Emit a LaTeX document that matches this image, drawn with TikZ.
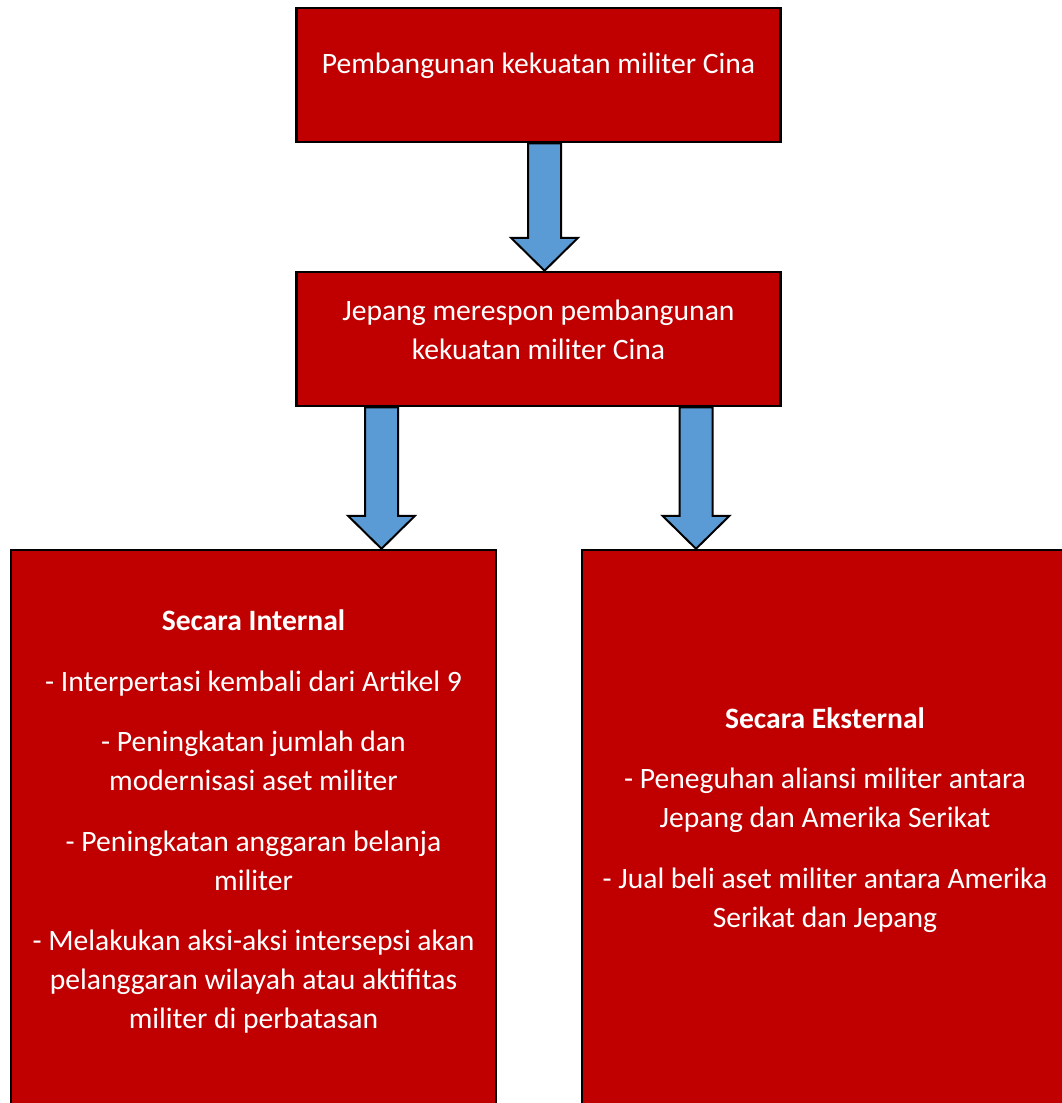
\documentclass[tikz,border=0pt]{standalone}
\usepackage{fontspec}
\setmainfont{Carlito}
\usepackage{tikz}
\usetikzlibrary{calc}

\definecolor{merah}{RGB}{192,0,0}
\definecolor{biru}{RGB}{91,155,213}

\tikzset{
  kotak/.style={rectangle,draw=black,fill=merah,line width=2.5pt,minimum width=#1,inner sep=0pt},
  teks/.style={text=white,align=center,font=\fontsize{29.6}{39}\selectfont},
  panahblok/.style={draw=black,fill=biru,line width=2pt,line join=miter}
}

% block arrow: x-coordinate, from node, to node
\newcommand{\panahturun}[3]{%
  \draw[panahblok] ($(#1 |- #2.south)+(-16.5,0)$) -- ($(#1 |- #3.north)+(-16.5,-33)$)
    -- ($(#1 |- #3.north)+(-33.5,-33)$) -- (#1 |- #3.north)
    -- ($(#1 |- #3.north)+(33.5,-33)$) -- ($(#1 |- #3.north)+(16.5,-33)$)
    -- ($(#1 |- #2.south)+(16.5,0)$) -- cycle;}

\begin{document}
\begin{tikzpicture}[x=1pt,y=-1pt]
      \clip (0,0) rectangle (1062,1103);

      \node[kotak=484pt,minimum height=134pt] (pembangunan) at (538.5,75) {};
      \node[kotak=484pt,minimum height=134pt] (respon) at (538.5,339) {};
      \node[kotak=485pt,minimum height=580pt] (internal) at (253.5,840) {};
      \node[kotak=498pt,minimum height=580pt] (eksternal) at (831,840) {};

      \node[teks] (t1) at (538.5,66) {Pembangunan kekuatan militer Cina};
      \node[teks] (t2) at (538.5,330) {Jepang merespon pembangunan\\kekuatan militer Cina};
      \node[teks] (t3) at (253.5,821) {\bfseries Secara Internal\\[22pt]
        - Interpertasi kembali dari Artikel 9\\[21pt]
        - Peningkatan jumlah dan\\modernisasi aset militer\\[22pt]
        - Peningkatan anggaran belanja\\militer\\[21pt]
        - Melakukan aksi-aksi intersepsi akan\\pelanggaran wilayah atau aktifitas\\militer di perbatasan};
      \node[teks] (t4) at (825,820) {\bfseries Secara Eksternal\\[21pt]
        - Peneguhan aliansi militer antara\\Jepang dan Amerika Serikat\\[22pt]
        - Jual beli aset militer antara Amerika\\Serikat dan Jepang};

      \coordinate (p1) at (544.5,0);
      \coordinate (p2) at (381.5,0);
      \coordinate (p3) at (696,0);
      \panahturun{p1}{pembangunan}{respon}
      \panahturun{p2}{respon}{internal}
      \panahturun{p3}{respon}{eksternal}
\end{tikzpicture}
\end{document}
